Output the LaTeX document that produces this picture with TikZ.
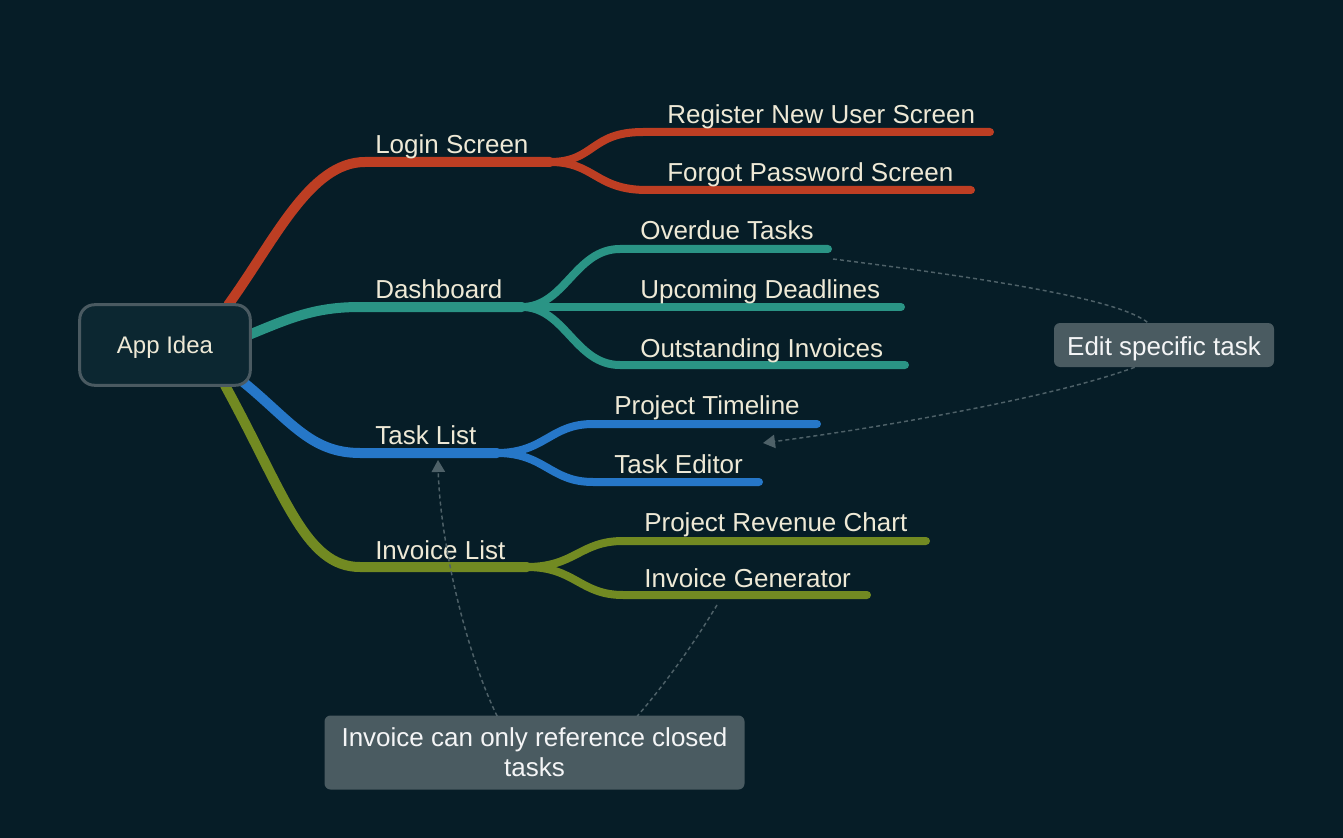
\documentclass[tikz,border=0pt]{standalone}
\usepackage{fontspec}
\setmainfont{Liberation Sans}
\usetikzlibrary{arrows.meta}
\definecolor{bgdark}{HTML}{061D27}
\definecolor{loginred}{HTML}{BD3E23}
\definecolor{dashteal}{HTML}{2A9485}
\definecolor{taskblue}{HTML}{2677C8}
\definecolor{involive}{HTML}{728A22}
\definecolor{rootfill}{HTML}{0C2731}
\definecolor{rootline}{HTML}{4A5A61}
\definecolor{notefill}{HTML}{4A5B61}
\definecolor{linkgrey}{HTML}{4E6168}
\definecolor{labelcream}{HTML}{EEE9D6}
\tikzset{
  branch/.style={line width=7.5pt, line cap=round},
  twig/.style={line width=6pt, line cap=round},
  lbl/.style={anchor=base west, inner sep=0pt, text=labelcream, font=\fontsize{19.5}{23}\selectfont},
  notebox/.style={fill=notefill, rounded corners=4.5pt, inner sep=0pt, align=center,
    text=white!94!notefill, font=\fontsize{19.5}{22.5}\selectfont},
  link/.style={draw=linkgrey, line width=1.1pt, dash pattern=on 3pt off 2.3pt},
  linktip/.style={-{Triangle[length=9pt,width=10pt]}},
}
\begin{document}
\begin{tikzpicture}[x=0.75pt,y=-0.75pt]
\fill[bgdark] (0,0) rectangle (1343,838);
\node[minimum width=127.5pt, minimum height=60pt] (root) at (165,345) {};

\coordinate (login-j) at (550,162);
\coordinate (register-end) at (990,132);
\coordinate (forgot-end) at (971,190);
\coordinate (dash-j) at (522,307);
\coordinate (overdue-end) at (828,249);
\coordinate (upcoming-end) at (901,307);
\coordinate (outstanding-end) at (905,365);
\coordinate (task-j) at (497,453);
\coordinate (timeline-end) at (817,424);
\coordinate (editor-end) at (759,482);
\coordinate (invoice-j) at (527,567);
\coordinate (revenue-end) at (926,541);
\coordinate (generator-end) at (867,595);

\draw[branch, loginred] ([xshift=-16.5pt]root.north east) .. controls (275,240) and (310,162) .. (365,162) -- (login-j);
\draw[twig, loginred] (login-j) .. controls (595,162) and (590,132) .. (643,132) -- (register-end);
\draw[twig, loginred] (login-j) .. controls (595,162) and (595,190) .. (647,190) -- (forgot-end);

\draw[branch, dashteal] ([yshift=8pt]root.east) .. controls (290,318) and (315,307) .. (360,307) -- (dash-j);
\draw[twig, dashteal] (dash-j) .. controls (565,307) and (575,249) .. (620,249) -- (overdue-end);
\draw[twig, dashteal] (dash-j) -- (upcoming-end);
\draw[twig, dashteal] (dash-j) .. controls (565,307) and (575,365) .. (620,365) -- (outstanding-end);

\draw[branch, taskblue] ([xshift=-6pt,yshift=3pt]root.south east) .. controls (290,420) and (310,453) .. (360,453) -- (task-j);
\draw[twig, taskblue] (task-j) .. controls (545,453) and (550,424) .. (593,424) -- (timeline-end);
\draw[twig, taskblue] (task-j) .. controls (545,453) and (550,482) .. (593,482) -- (editor-end);

\draw[branch, involive] ([xshift=-19pt]root.south east) .. controls (285,495) and (305,567) .. (360,567) -- (invoice-j);
\draw[twig, involive] (invoice-j) .. controls (575,567) and (580,541) .. (623,541) -- (revenue-end);
\draw[twig, involive] (invoice-j) .. controls (575,567) and (580,595) .. (623,595) -- (generator-end);

\draw[rootline, fill=rootfill, line width=2.25pt, rounded corners=11pt] (root.south west) rectangle (root.north east);
\node[text=labelcream, font=\fontsize{18}{21}\selectfont, text height=13pt, text depth=0pt] (rootlbl) at (root.center) {App Idea};

\node[lbl] (login) at (375,154) {Login Screen};
\node[lbl] (register) at (667,124) {Register New User Screen};
\node[lbl] (forgot) at (667,182) {Forgot Password Screen};
\node[lbl] (dash) at (375,298) {Dashboard};
\node[lbl] (overdue) at (640,240) {Overdue Tasks};
\node[lbl] (upcoming) at (640,298) {Upcoming Deadlines};
\node[lbl] (outstanding) at (640,357) {Outstanding Invoices};
\node[lbl] (tasklist) at (375,444) {Task List};
\node[lbl] (timeline) at (614,414) {Project Timeline};
\node[lbl] (editor) at (614,473) {Task Editor};
\node[lbl] (invoicelist) at (375,559) {Invoice List};
\node[lbl] (revenue) at (644,531) {Project Revenue Chart};
\node[lbl] (generator) at (644,587) {Invoice Generator};

\node[notebox, minimum width=165pt, minimum height=33pt, text height=16pt, text depth=1pt] (editnote) at (1164,345) {Edit specific task};
\node[notebox, minimum width=315pt, minimum height=55.5pt] (invnote) at (534.5,752.5) {Invoice can only reference closed\\tasks};

\coordinate (overdue-tail) at (833,259);
\coordinate (editor-tip) at (763,443);
\coordinate (generator-tail) at (717,605);
\coordinate (tasklist-tip) at (438,460);

\draw[link] (overdue-tail) .. controls (1000,280) and (1120,300) .. ([xshift=-12pt]editnote.north);
\draw[link, linktip] ([xshift=-22pt]editnote.south) .. controls (1060,395) and (900,425) .. (editor-tip);
\draw[link] (generator-tail) .. controls (690,650) and (660,690) .. ([xshift=77pt,yshift=-0.75pt]invnote.north);
\draw[link, linktip] ([xshift=-28pt,yshift=-0.75pt]invnote.north) .. controls (465,650) and (440,540) .. (tasklist-tip);
\end{tikzpicture}
\end{document}
